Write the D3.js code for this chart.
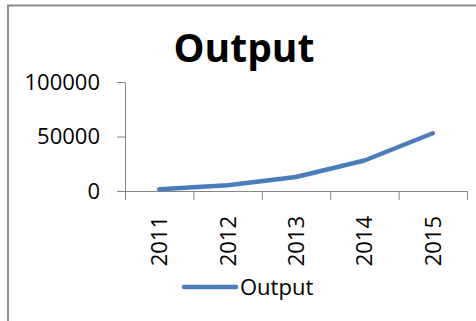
<!DOCTYPE html>
<html>
<head>
<meta charset="utf-8">
<script src="https://cdn.jsdelivr.net/npm/d3@7"></script>
<style>
  html, body { margin: 0; padding: 0; background: #fff; }
  svg { display: block; }
  text { font-family: "Open Sans", "Liberation Sans", sans-serif; fill: #000; }
</style>
</head>
<body>
<svg id="chart" width="476" height="321"></svg>
<script>
// Yearly output series
const years = ["2011", "2012", "2013", "2014", "2015"];
const outputValues = [1500, 5200, 12800, 28000, 53000];
const yTicks = [0, 50000, 100000];
const titleText = "Output";
const seriesName = "Output";

const svg = d3.select("#chart");
const lineColor = "#4A7EBB";
const axisColor = "#868686";

// Chart frame
svg.append("rect")
  .attr("x", 8).attr("y", 5.5)
  .attr("width", 500).attr("height", 340)
  .attr("fill", "none")
  .attr("stroke", "#8c8c8c")
  .attr("stroke-width", 2);

// Title
svg.append("text")
  .attr("x", 244).attr("y", 62)
  .attr("text-anchor", "middle")
  .style("font-size", "39px")
  .style("font-weight", "bold")
  .text(titleText);

const plot = { left: 125, right: 467, top: 82, bottom: 191 };

const y = d3.scaleLinear().domain([0, 100000]).range([plot.bottom, plot.top]);
const x = d3.scaleBand().domain(years).range([plot.left, plot.right]);
const xEdge = d3.scaleLinear().domain([0, years.length]).range([plot.left, plot.right]);

// Y axis
const yAxis = svg.append("g")
  .attr("transform", `translate(${plot.left},0)`)
  .call(d3.axisLeft(y).tickValues(yTicks).tickFormat(d3.format("d"))
    .tickSize(8).tickSizeOuter(0).tickPadding(17));
yAxis.select(".domain").attr("stroke", axisColor);
yAxis.selectAll(".tick line").attr("stroke", axisColor);
yAxis.selectAll("text").style("font-size", "22px").attr("fill", "#000");

// X axis: tick marks on category boundaries
const xTicksAxis = svg.append("g")
  .attr("transform", `translate(0,${plot.bottom})`)
  .call(d3.axisBottom(xEdge).tickValues(d3.range(years.length + 1))
    .tickFormat("").tickSize(9).tickSizeOuter(0));
xTicksAxis.select(".domain").attr("stroke", axisColor);
xTicksAxis.selectAll(".tick line").attr("stroke", axisColor);

// X axis: rotated category labels
const xLabels = svg.append("g")
  .attr("transform", `translate(0,${plot.bottom})`)
  .call(d3.axisBottom(x).tickSize(0).tickSizeOuter(0));
xLabels.select(".domain").remove();
xLabels.selectAll("text")
  .attr("transform", "rotate(-90)")
  .attr("x", -25).attr("y", 0).attr("dy", "0.36em")
  .attr("text-anchor", "end")
  .attr("fill", "#000")
  .style("font-size", "22px");

// Series line
const line = d3.line()
  .x((d, i) => x(years[i]) + x.bandwidth() / 2)
  .y(d => y(d));
svg.append("path")
  .datum(outputValues)
  .attr("d", line)
  .attr("fill", "none")
  .attr("stroke", lineColor)
  .attr("stroke-width", 4.5)
  .attr("stroke-linecap", "round")
  .attr("stroke-linejoin", "round");

// Legend
const legend = svg.append("g");
legend.append("line")
  .attr("x1", 184).attr("x2", 236)
  .attr("y1", 287).attr("y2", 287)
  .attr("stroke", lineColor)
  .attr("stroke-width", 4.5)
  .attr("stroke-linecap", "round");
legend.append("text")
  .attr("x", 240).attr("y", 295)
  .style("font-size", "22px")
  .text(seriesName);
</script>
</body>
</html>
